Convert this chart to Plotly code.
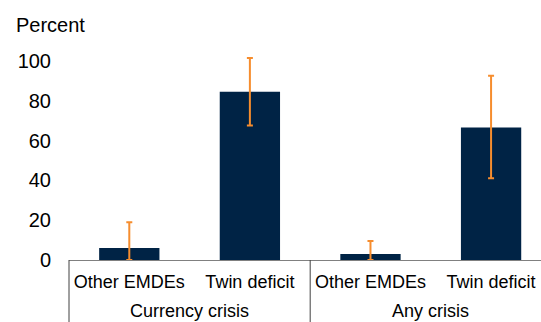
import plotly.graph_objects as go

# Share of episodes (percent) with confidence bands
categories = ["Other EMDEs", "Twin deficit", "Other EMDEs", "Twin deficit"]
groups = ["Currency crisis", "Currency crisis", "Any crisis", "Any crisis"]
values = [6.0, 84.5, 3.0, 66.5]
upper = [19.0, 101.5, 9.5, 92.5]
lower = [0.0, 67.5, 0.0, 41.0]
y_ticks = [0, 20, 40, 60, 80, 100]

NAVY = "#002345"
ORANGE = "#F68D2E"
FONT = "Liberation Sans, Arial, sans-serif"

x_pos = list(range(len(categories)))
x_range = [-0.5, 3.414]

fig = go.Figure(
    go.Bar(
        x=x_pos,
        y=values,
        marker=dict(color=NAVY, line=dict(width=0)),
        error_y=dict(
            type="data",
            symmetric=False,
            array=[u - v for u, v in zip(upper, values)],
            arrayminus=[v - l for v, l in zip(values, lower)],
            color=ORANGE,
            thickness=2,
            width=3,
        ),
        hoverinfo="skip",
    )
)

fig.update_layout(
    width=541,
    height=322,
    margin=dict(l=69, r=0, t=41, b=62),
    paper_bgcolor="white",
    plot_bgcolor="white",
    showlegend=False,
    bargap=0.5,
    font=dict(family=FONT, color="#000000"),
    xaxis=dict(
        range=x_range,
        tickvals=x_pos,
        ticktext=categories,
        showline=True,
        linecolor="#808080",
        linewidth=1,
        showgrid=False,
        zeroline=False,
        ticks="",
        tickfont=dict(size=18, family=FONT, color="#000000"),
        ticklabelstandoff=5,
    ),
    yaxis=dict(
        range=[0, 110],
        tickvals=y_ticks,
        showline=False,
        showgrid=False,
        zeroline=False,
        ticks="",
        tickfont=dict(size=20, family=FONT, color="#000000"),
        ticklabelstandoff=17,
    ),
)

# Group labels under the category labels
group_names = []
for g in groups:
    if g not in group_names:
        group_names.append(g)
for g in group_names:
    idx = [i for i, gg in enumerate(groups) if gg == g]
    fig.add_annotation(
        x=sum(idx) / len(idx), y=0, xref="x", yref="paper",
        yshift=-51, yanchor="middle", showarrow=False,
        text=g, font=dict(size=18, family=FONT, color="#000000"),
    )

# Group dividers below the axis
span = x_range[1] - x_range[0]
for b in [-0.5, 1.5]:
    xp = (b - x_range[0]) / span
    fig.add_shape(
        type="line", xref="paper", yref="paper",
        x0=xp, x1=xp, y0=0, y1=-0.35,
        line=dict(color="#404040", width=1),
    )

# Axis title placed above the tick labels
fig.add_annotation(
    x=(14 - 69) / 472, y=1 + (41 - 25) / 219, xref="paper", yref="paper",
    xanchor="left", yanchor="middle", showarrow=False,
    text="Percent", font=dict(size=20, family=FONT, color="#000000"),
)

fig.write_html("out.html")
